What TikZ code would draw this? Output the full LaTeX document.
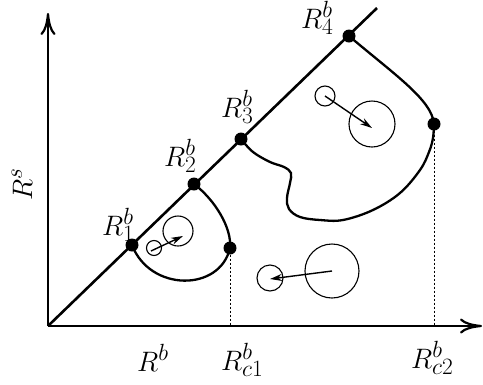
\documentclass[tikz,border=0pt]{standalone}
\usetikzlibrary{arrows.meta}
\newcommand{\biglab}[1]{\scalebox{1.13}{$#1$}}
\begin{document}
\begin{tikzpicture}[x=1pt,y=-1pt,
  axis/.style={line width=2.8pt,-{To[length=22pt,width=15pt,line width=2.2pt]}},
  curve/.style={line width=2.3pt},
  dot/.style={circle,fill=black,inner sep=0pt,minimum size=13pt},
  ring/.style={circle,draw,line width=1.1pt,inner sep=0pt},
  move/.style={line width=1.4pt,-{Stealth[length=12pt,width=7pt]}},
  guide/.style={line width=0.9pt,dash pattern=on 2pt off 2pt},
  lab/.style={inner sep=0pt,anchor=base west,font=\fontsize{24.88}{30}\selectfont}]
\useasboundingbox (0,0) rectangle (483,384);
% axes
\coordinate (O) at (48,326);
\coordinate (xend) at (482,326);
\coordinate (yend) at (48,13);
\coordinate (dend) at (377,8);
\draw[axis] (O) -- (xend);
\draw[axis] (O) -- (yend);
\draw[line width=2.6pt] (O) -- (dend);
% dots
\node[dot] (R1) at (132,245) {};
\node[dot] (R2) at (194,184) {};
\node[dot] (R3) at (241,139) {};
\node[dot] (R4) at (349,36) {};
\node[dot] (C1) at (230,248) {};
\node[dot] (C2) at (434,124) {};
\coordinate (F1) at (230,326);
\coordinate (F2) at (434,326);
\draw[guide] (C1) -- (F1);
\draw[guide] (C2) -- (F2);
% loop 1
\draw[curve] (R1.center) .. controls (150,292) and (220,292) .. (C1.center)
  .. controls (232,228) and (215,200) .. (R2.center);
% loop 2
\draw[curve] (R4.center) .. controls (395,75) and (432,100) .. (C2.center);
\draw[curve] plot[smooth,tension=0.6] coordinates {(C2.center) (433,138) (429,152) (420,170) (400,193) (373,210) (343,220) (320,220) (300,217) (289,209) (287,198) (290,183) (291,173) (284,167) (270,162) (253,152) (R3.center)};
% circles
\node[ring,minimum size=15pt] (s1) at (154,248) {};
\node[ring,minimum size=30pt] (b1) at (178,231) {};
\coordinate (a1s) at (151,251);
\coordinate (a1e) at (183,236);
\draw[move] (a1s) -- (a1e);
\node[ring,minimum size=20pt] (s2) at (325,96) {};
\node[ring,minimum size=46pt] (b2) at (372,124) {};
\coordinate (a2s) at (325,96);
\coordinate (a2e) at (372,128);
\draw[move] (a2s) -- (a2e);
\node[ring,minimum size=26pt] (s3) at (270,278) {};
\node[ring,minimum size=54pt] (b3) at (332,271) {};
\coordinate (a3s) at (332,271);
\coordinate (a3e) at (270,279);
\draw[move] (a3s) -- (a3e);
% labels
\node[lab] (l1) at (102,235) {\biglab{R^b_1}};
\node[lab] (l2) at (164,166) {\biglab{R^b_2}};
\node[lab] (l3) at (221,117) {\biglab{R^b_3}};
\node[lab] (l4) at (301,28) {\biglab{R^b_4}};
\node[lab] (lx) at (137,371) {\biglab{R^b}};
\node[lab] (lc1) at (221,370) {\biglab{R^b_{c1}}};
\node[lab] (lc2) at (411,368) {\biglab{R^b_{c2}}};
\node[inner sep=0pt,rotate=90,font=\fontsize{24.88}{30}\selectfont] (ly) at (22,184) {\biglab{R^s}};
\end{tikzpicture}
\end{document}
